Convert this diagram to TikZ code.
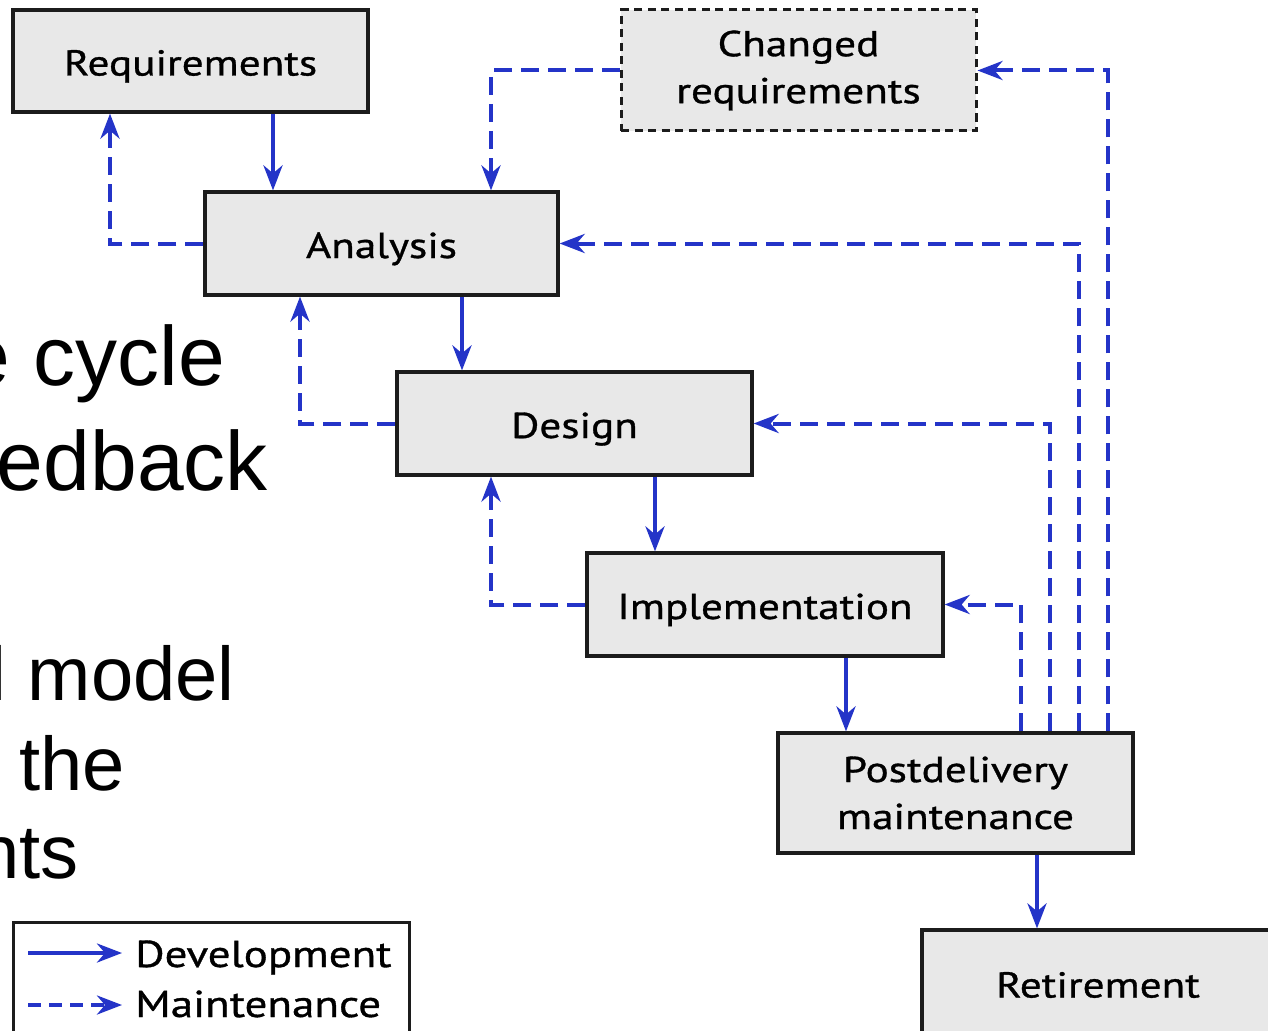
\documentclass[tikz,border=0pt]{standalone}
\usepackage{fontspec}
\usetikzlibrary{arrows.meta}
\newfontfamily\boxfont[FakeStretch=1.2,FakeBold=0.9]{PT Sans}
\newfontfamily\slidefont{Liberation Sans}
\definecolor{flowblue}{RGB}{36,52,200}
\definecolor{boxgray}{RGB}{232,232,232}
\definecolor{boxline}{RGB}{28,28,28}

\begin{document}
\begin{tikzpicture}[x=1pt,y=-1pt,
  stage/.style={draw=boxline, line width=3.2pt, fill=boxgray, inner sep=0pt,
    font=\boxfont\fontsize{36}{47}\selectfont, align=center},
  oneline/.style={text height=37pt, text depth=8pt},
  devarrow/.style={flowblue, line width=4pt,
    -{Stealth[length=25pt,width=19pt,inset=8pt]}},
  mntarrow/.style={devarrow, dash pattern=on 18pt off 9pt},
  slidebig/.style={font=\slidefont\fontsize{84}{100}\selectfont, anchor=base east, inner sep=0pt},
  slidesmall/.style={font=\slidefont\fontsize{76}{90}\selectfont, anchor=base east, inner sep=0pt},
  legendtext/.style={font=\boxfont\fontsize{37.5}{40}\selectfont, anchor=base west, inner sep=0pt},
]
\useasboundingbox (0,0) rectangle (1268,1030);

% slide text partly hidden behind the chart
\node[slidebig] (lineA) at (225.5,385) {e cycle};
\node[slidebig] (lineB) at (268,490) {edback};
\node[slidesmall] (lineC) at (235,700) {l model};
\node[slidesmall] (lineD) at (125,790) {the};
\node[slidesmall] (lineE) at (79,878) {nts};

% phases
\node[stage, oneline, minimum width=355pt, minimum height=102pt] (req) at (190.5,61) {Requirements};
\node[stage, oneline, minimum width=353pt, minimum height=103pt] (analysis) at (381.5,243.5) {Analysis};
\node[stage, oneline, minimum width=355pt, minimum height=103pt] (design) at (574.5,423.5) {Design};
\node[stage, oneline, minimum width=356pt, minimum height=103pt] (impl) at (765,604.5) {Implementation};
\node[stage, minimum width=355pt, minimum height=120pt] (post) at (955.5,793) {Postdelivery\\maintenance};
\node[stage, oneline, minimum width=352pt, minimum height=106pt] (retire) at (1098,983) {Retirement};
\node[stage, minimum width=355pt, minimum height=121pt, line width=3pt,
      dash pattern=on 8pt off 5.5pt] (changed) at (798.5,70.5) {Changed\\requirements};

% connector lanes
\coordinate (laneA) at (273,0);
\coordinate (laneB) at (462,0);
\coordinate (laneC) at (655,0);
\coordinate (laneD) at (846,0);
\coordinate (laneE) at (1037,0);
\coordinate (backA) at (110,0);
\coordinate (backB) at (300,0);
\coordinate (backC) at (491,0);
\coordinate (upA) at (1021,0);
\coordinate (upB) at (1050,0);
\coordinate (upC) at (1079,0);
\coordinate (upD) at (1108,0);

% development flow
\draw[devarrow] (req.south -| laneA) -- (analysis.north -| laneA);
\draw[devarrow] (analysis.south -| laneB) -- (design.north -| laneB);
\draw[devarrow] (design.south -| laneC) -- (impl.north -| laneC);
\draw[devarrow] (impl.south -| laneD) -- (post.north -| laneD);
\draw[devarrow] (post.south -| laneE) -- (retire.north -| laneE);

% maintenance feedback
\draw[mntarrow] (analysis.west) -| (req.south -| backA);
\draw[mntarrow] (design.west) -| (analysis.south -| backB);
\draw[mntarrow] (impl.west) -| (design.south -| backC);
\draw[mntarrow] (changed.west) -| (analysis.north -| backC);
\draw[mntarrow] (post.north -| upA) |- (impl.east);
\draw[mntarrow] (post.north -| upB) |- (design.east);
\draw[mntarrow] (post.north -| upC) |- (analysis.east);
\draw[mntarrow] (post.north -| upD) |- (changed.east);

% legend
\node[draw=boxline, line width=3pt, fill=white, minimum width=396pt,
      minimum height=120pt, inner sep=0pt] (legend) at (211,982) {};
\coordinate (devA) at (28,953);
\coordinate (devB) at (122,953);
\coordinate (mntA) at (28,1005);
\coordinate (mntB) at (122,1005);
\draw[devarrow] (devA) -- (devB);
\draw[mntarrow, dash pattern=on 13pt off 8pt] (mntA) -- (mntB);
\node[legendtext] (devlabel) at (135,967) {Development};
\node[legendtext] (mntlabel) at (135,1017) {Maintenance};
\end{tikzpicture}
\end{document}
